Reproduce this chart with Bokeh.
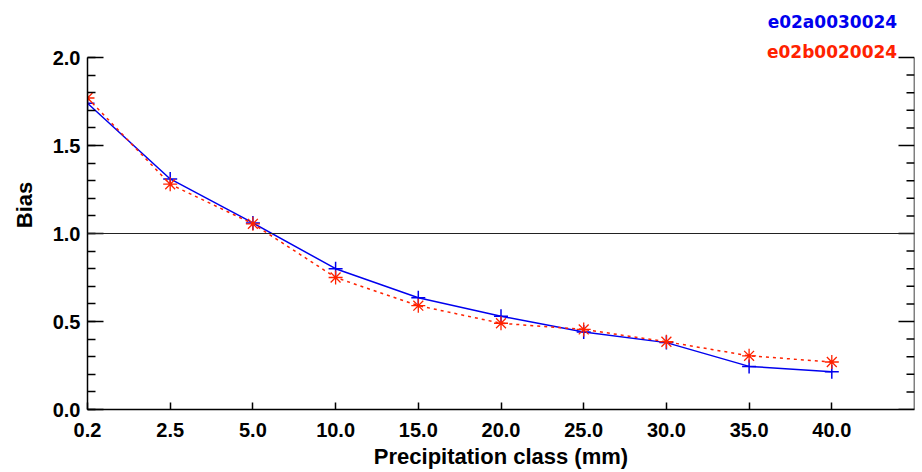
import numpy as np
from bokeh.plotting import figure
from bokeh.models import (Range1d, LinearAxis, FixedTicker, SingleIntervalTicker,
                          Span, Label, ColumnDataSource)
from bokeh.embed import file_html
from bokeh.resources import INLINE

# ---- data ----
categories = ["0.2", "2.5", "5.0", "10.0", "15.0", "20.0", "25.0", "30.0", "35.0", "40.0"]
bias_e02a = [1.74, 1.31, 1.06, 0.80, 0.635, 0.53, 0.44, 0.38, 0.245, 0.215]
bias_e02b = [1.77, 1.28, 1.055, 0.75, 0.59, 0.49, 0.455, 0.385, 0.305, 0.27]
series_names = ["e02a0030024", "e02b0020024"]
y_ticks = [0.0, 0.5, 1.0, 1.5, 2.0]
x_max = 10

BLUE = "#0000ee"
RED = "#ff2200"
TICK_FONT = "Liberation Sans"

xs = list(range(len(categories)))
src = ColumnDataSource(dict(x=xs, a=bias_e02a, b=bias_e02b))

W, H = 922, 472
FRAME_BOTTOM_PX = 63   # space below the frame
Y_PX_PER_UNIT = 176
y_top = (H - FRAME_BOTTOM_PX) / Y_PX_PER_UNIT   # frame extends to the top of the canvas

p = figure(width=W, height=H, output_backend="svg", toolbar_location=None,
           x_range=Range1d(0, x_max), y_range=Range1d(y_ticks[0], y_top),
           x_axis_location=None, y_axis_location=None,
           min_border_left=87, min_border_right=8, min_border_top=0,
           min_border_bottom=FRAME_BOTTOM_PX)
p.outline_line_color = None
p.xgrid.visible = False
p.ygrid.visible = False
p.background_fill_color = "white"
p.border_fill_color = "white"

# bottom axis
xa = LinearAxis(ticker=FixedTicker(ticks=xs),
                major_label_overrides={i: c for i, c in zip(xs, categories)},
                axis_label="Precipitation class (mm)")
xa.major_tick_in = 7
xa.major_tick_out = 0
xa.minor_tick_in = 0
xa.minor_tick_out = 0
xa.major_label_standoff = 13
xa.axis_label_standoff = 4
xa.major_label_text_font = TICK_FONT
xa.major_label_text_font_style = "bold"
xa.major_label_text_font_size = "20px"
xa.major_label_text_color = "black"
xa.axis_label_text_font = TICK_FONT
xa.axis_label_text_font_style = "bold"
xa.axis_label_text_font_size = "22px"
xa.axis_label_text_color = "black"
xa.axis_line_width = 1.5
xa.major_tick_line_width = 1.5
p.add_layout(xa, "below")

# left axis (bounded to 0..2)
ya = LinearAxis(ticker=SingleIntervalTicker(interval=0.5, num_minor_ticks=5),
                major_label_overrides={v: f"{v:.1f}" for v in y_ticks},
                axis_label="Bias", bounds=(y_ticks[0], y_ticks[-1]))
ya.major_tick_in = 16
ya.major_tick_out = 0
ya.minor_tick_in = 8
ya.minor_tick_out = 0
ya.major_label_standoff = 7
ya.axis_label_standoff = 13
ya.major_label_text_font = TICK_FONT
ya.major_label_text_font_style = "bold"
ya.major_label_text_font_size = "20px"
ya.major_label_text_color = "black"
ya.axis_label_text_font = TICK_FONT
ya.axis_label_text_font_style = "bold"
ya.axis_label_text_font_size = "22px"
ya.axis_label_text_color = "black"
ya.axis_line_width = 1.5
ya.major_tick_line_width = 1.5
ya.minor_tick_line_width = 1.5
p.add_layout(ya, "left")

# right mirror axis: line + inward ticks (no labels)
minor_y = [round(t + k * 0.1, 2) for t in y_ticks[:-1] for k in range(1, 5)]
p.segment(x0=[x_max], y0=[y_ticks[0]], x1=[x_max], y1=[y_ticks[-1]],
          line_color="black", line_width=1.5)
p.ray(x=[x_max] * len(y_ticks), y=y_ticks, length=16, length_units="screen",
      angle=np.pi, line_color="black", line_width=1.5)
p.ray(x=[x_max] * len(minor_y), y=minor_y, length=8, length_units="screen",
      angle=np.pi, line_color="black", line_width=1.5)

# reference line at bias = 1
p.add_layout(Span(location=1.0, dimension="width", line_color="#222222", line_width=1.2))

# series
p.line("x", "a", source=src, line_color=BLUE, line_width=1.5)
p.scatter("x", "a", source=src, marker="cross", size=14, line_color=BLUE, line_width=1.5)
p.line("x", "b", source=src, line_color=RED, line_width=1.5, line_dash="3 4")
p.scatter("x", "b", source=src, marker="asterisk", size=14, line_color=RED, line_width=1.3)

# legend texts
p.add_layout(Label(x=9.79, y=2.20, text=series_names[0], text_color=BLUE,
                   text_font="DejaVu Sans", text_font_style="bold", text_font_size="17px",
                   text_align="right", text_baseline="alphabetic"))
p.add_layout(Label(x=9.79, y=2.03, text=series_names[1], text_color=RED,
                   text_font="DejaVu Sans", text_font_style="bold", text_font_size="17px",
                   text_align="right", text_baseline="alphabetic"))

open("out.html", "w").write(file_html(p, INLINE))
